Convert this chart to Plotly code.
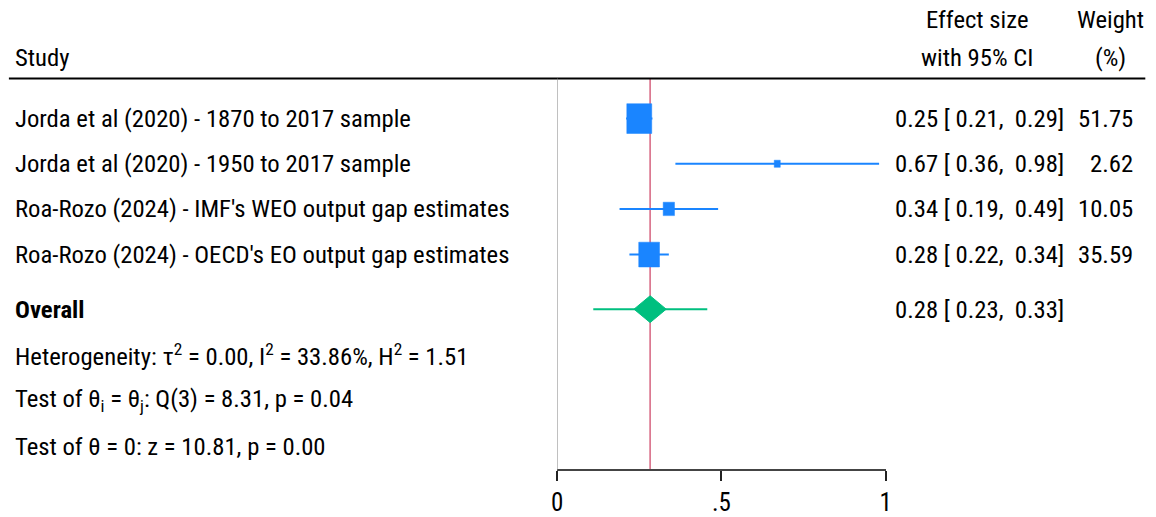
import plotly.graph_objects as go

# ---------------- data ----------------
studies = [
    "Jorda et al (2020) - 1870 to 2017 sample",
    "Jorda et al (2020) - 1950 to 2017 sample",
    "Roa-Rozo (2024) - IMF's WEO output gap estimates",
    "Roa-Rozo (2024) - OECD's EO output gap estimates",
]
effect = [0.25, 0.67, 0.34, 0.28]
ci_low = [0.21, 0.36, 0.19, 0.22]
ci_high = [0.29, 0.98, 0.49, 0.34]
weight = [51.75, 2.62, 10.05, 35.59]

overall_effect = 0.283
overall_low = 0.234
overall_high = 0.332
pred_low = 0.11
pred_high = 0.457

tick_vals = [0, 0.5, 1]
tick_text = ["0", ".5", "1"]

stats_lines = [
    "Heterogeneity: τ<sup>2</sup> = 0.00, I<sup>2</sup> = 33.86%, H<sup>2</sup> = 1.51",
    "Test of θ<sub>i</sub> = θ<sub>j</sub>: Q(3) = 8.31, p = 0.04",
    "Test of θ = 0: z = 10.81, p = 0.00",
]

# ---------------- layout constants ----------------
W, H = 1156, 517
# small calibration of the photographed page (measured offset / scale)
CAL_AX, CAL_BX = 5.1, 0.991
CAL_AY, CAL_BY = 0.5, 0.99

def X(t):
    """target pixel x -> paper fraction"""
    return (t - CAL_AX) / CAL_BX / W

X0_PX, X1_PX = 557, 886
row_y = [120, 165.5, 211, 257]
overall_y = 312
stats_y = [358, 404, 450]
header_y1, header_y2 = 20, 58
rule_y = 79.5
axis_px = 474

FONT = "Roboto Condensed, Liberation Sans, sans-serif"
FS = 24.7
BLUE = "#1a85ff"
GREEN = "#00bf7f"
RED = "#d6637f"

px_per_unit = X1_PX - X0_PX
y_top = CAL_AY
y_bot = CAL_AY + CAL_BY * H

fig = go.Figure()

# CI lines
for i in range(len(studies)):
    fig.add_trace(go.Scatter(x=[ci_low[i], ci_high[i]], y=[row_y[i], row_y[i]], mode="lines",
                             line=dict(color=BLUE, width=2), hoverinfo="skip", showlegend=False))

# boxes sized by weight (area proportional to weight)
bx, by = [], []
for e, w, y in zip(effect, weight, row_y):
    hw = (3.4 * w ** 0.5 + 0.5) / 2 / px_per_unit
    hh = (4.1 * w ** 0.5 + 0.5) / 2
    bx += [e - hw, e + hw, e + hw, e - hw, e - hw, None]
    by += [y - hh, y - hh, y + hh, y + hh, y - hh, None]
fig.add_trace(go.Scatter(x=bx, y=by, mode="lines", fill="toself", fillcolor=BLUE,
                         line=dict(color=BLUE, width=0.5), showlegend=False, hoverinfo="skip"))

# prediction interval line
fig.add_trace(go.Scatter(x=[pred_low, pred_high], y=[overall_y, overall_y], mode="lines",
                         line=dict(color=GREEN, width=2), showlegend=False, hoverinfo="skip"))
# overall diamond
dh = 13.5
fig.add_trace(go.Scatter(x=[overall_low, overall_effect, overall_high, overall_effect, overall_low],
                         y=[overall_y, overall_y - dh, overall_y, overall_y + dh, overall_y],
                         mode="lines", fill="toself", fillcolor=GREEN, line=dict(color=GREEN, width=1),
                         showlegend=False, hoverinfo="skip"))

shapes = [
    dict(type="line", xref="paper", yref="y", x0=X(8), x1=X(1146), y0=rule_y, y1=rule_y,
         line=dict(color="black", width=2)),
    dict(type="line", xref="x", yref="y", x0=0, x1=0, y0=rule_y, y1=axis_px,
         line=dict(color="#8c8c8c", width=1)),
    dict(type="line", xref="x", yref="y", x0=overall_effect, x1=overall_effect, y0=rule_y, y1=axis_px,
         line=dict(color=RED, width=1.5), layer="below"),
]

ann = []
def txt(x, y, s, anchor="left"):
    ann.append(dict(x=X(x), y=y, xref="paper", yref="y", text=s, showarrow=False,
                    xanchor=anchor, yanchor="middle", font=dict(family=FONT, size=FS, color="black")))

txt(12, header_y2, "Study")
txt(977, header_y1, "Effect size", "center")
txt(977, header_y2, "with 95% CI", "center")
txt(1111, header_y1, "Weight", "center")
txt(1111, header_y2, "(%)", "center")

for i, s in enumerate(studies):
    txt(12, row_y[i], s)
    txt(893, row_y[i], f"{effect[i]:.2f} [ {ci_low[i]:.2f},  {ci_high[i]:.2f}]")
    txt(1136, row_y[i], f"{weight[i]:.2f}", "right")

txt(12, overall_y, "<b>Overall</b>")
txt(893, overall_y, f"{overall_effect:.2f} [ {overall_low:.2f},  {overall_high:.2f}]")
for y, s in zip(stats_y, stats_lines):
    txt(12, y, s)

fig.update_layout(
    width=W, height=H, margin=dict(l=0, r=0, t=0, b=0),
    paper_bgcolor="white", plot_bgcolor="white",
    shapes=shapes, annotations=ann,
    xaxis=dict(domain=[X(X0_PX), X(X1_PX)], range=[0, 1], anchor="free",
               position=1 - (axis_px - y_top) / (y_bot - y_top),
               showgrid=False, zeroline=False, showline=True, linecolor="#444", linewidth=1.5,
               ticks="outside", ticklen=10, tickwidth=1.5, tickcolor="#222",
               tickvals=tick_vals, ticktext=tick_text,
               tickfont=dict(family=FONT, size=25, color="black")),
    yaxis=dict(domain=[0, 1], range=[y_bot, y_top], visible=False, showgrid=False, zeroline=False),
)

fig.write_html("out.html")
